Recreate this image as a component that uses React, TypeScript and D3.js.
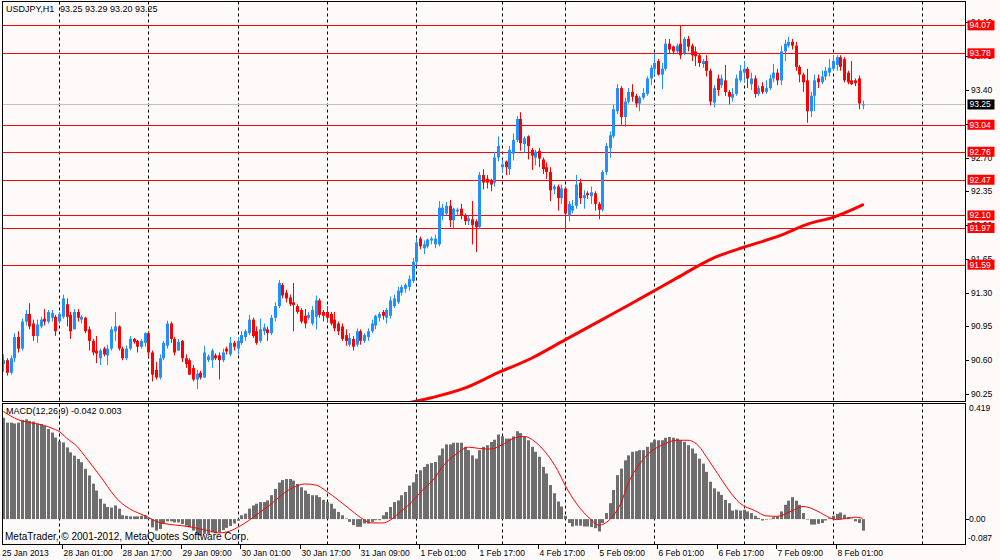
import React from 'react';
import * as d3 from 'd3';

const W = 1000;
const H = 560;

const opens = [
  90.56, 90.60, 90.47, 90.62, 90.84, 90.72, 91.00, 91.08, 90.98, 90.85,
  90.95, 91.03, 91.00, 91.04, 91.05, 91.00, 91.05, 91.18, 91.07, 90.92,
  91.10, 91.02, 91.04, 90.92, 90.80, 90.70, 90.62, 90.72, 90.65, 90.72,
  90.90, 90.95, 90.72, 90.62, 90.72, 90.82, 90.80, 90.74, 90.78, 90.88,
  90.68, 90.50, 90.42, 90.62, 90.75, 90.98, 90.82, 90.70, 90.80, 90.62,
  90.60, 90.52, 90.40, 90.47, 90.42, 90.60, 90.60, 90.65, 90.65, 90.60,
  90.72, 90.66, 90.78, 90.72, 90.78, 90.84, 90.88, 91.02, 90.90, 90.80,
  90.90, 90.92, 90.88, 91.04, 91.16, 91.38, 91.30, 91.25, 91.20, 91.16,
  91.12, 91.06, 91.04, 90.98, 91.05, 91.22, 91.10, 91.10, 91.08, 91.02,
  90.98, 90.95, 90.86, 90.76, 90.82, 90.76, 90.90, 90.80, 90.84, 90.90,
  90.96, 91.04, 91.10, 91.04, 91.06, 91.16, 91.20, 91.30, 91.34, 91.36,
  91.42, 91.62, 91.86, 91.76, 91.78, 91.84, 91.80, 91.80, 92.10, 92.12,
  92.20, 92.05, 92.14, 92.17, 92.10, 92.04, 92.06, 92.04, 91.98, 92.52,
  92.48, 92.46, 92.44, 92.70, 92.60, 92.66, 92.58, 92.74, 92.88, 93.10,
  92.84, 92.92, 92.78, 92.70, 92.77, 92.68, 92.60, 92.55, 92.37, 92.40,
  92.28, 92.38, 92.10, 92.15, 92.20, 92.44, 92.28, 92.33, 92.30, 92.33,
  92.22, 92.16, 92.55, 92.80, 92.92, 93.18, 93.42, 93.12, 93.28, 93.38,
  93.34, 93.26, 93.32, 93.36, 93.52, 93.62, 93.70, 93.56, 93.62, 93.88,
  93.85, 93.80, 93.88, 93.78, 93.93, 93.86, 93.80, 93.76, 93.67, 93.70,
  93.60, 93.27, 93.52, 93.45, 93.50, 93.38, 93.32, 93.36, 93.50, 93.58,
  93.62, 93.46, 93.52, 93.36, 93.44, 93.38, 93.42, 93.52, 93.58, 93.50,
  93.80, 93.86, 93.90, 93.86, 93.64, 93.56, 93.50, 93.18, 93.34, 93.52,
  93.48, 93.54, 93.58, 93.62, 93.66, 93.74, 93.72, 93.58, 93.50, 93.50,
  93.52, 93.25,
];

const highs = [
  90.66, 90.62, 90.65, 90.88, 90.90, 91.03, 91.12, 91.19, 91.02, 91.02,
  91.05, 91.13, 91.12, 91.12, 91.07, 91.10, 91.28, 91.24, 91.10, 91.13,
  91.13, 91.07, 91.05, 90.95, 90.82, 90.85, 90.72, 90.74, 90.76, 90.95,
  91.10, 90.96, 90.74, 90.75, 90.85, 90.83, 90.81, 90.82, 90.89, 90.90,
  90.70, 90.58, 90.66, 90.80, 91.01, 91.00, 90.84, 90.82, 90.81, 90.66,
  90.62, 90.55, 90.50, 90.49, 90.75, 90.66, 90.72, 90.67, 90.68, 90.72,
  90.74, 90.84, 90.80, 90.84, 90.90, 90.92, 91.07, 91.04, 90.95, 91.03,
  90.98, 90.95, 91.07, 91.20, 91.43, 91.40, 91.33, 91.28, 91.40, 91.18,
  91.14, 91.13, 91.10, 91.16, 91.27, 91.24, 91.12, 91.16, 91.10, 91.10,
  91.00, 90.98, 90.92, 90.88, 90.85, 90.93, 90.92, 90.88, 90.93, 91.02,
  91.07, 91.10, 91.12, 91.14, 91.26, 91.28, 91.36, 91.38, 91.40, 91.48,
  91.66, 91.87, 91.88, 91.84, 91.86, 91.88, 91.90, 92.25, 92.22, 92.24,
  92.26, 92.18, 92.18, 92.22, 92.12, 92.10, 92.25, 92.06, 92.55, 92.58,
  92.52, 92.48, 92.76, 92.92, 92.68, 92.67, 92.82, 92.95, 93.13, 93.17,
  92.92, 92.93, 92.80, 92.78, 92.80, 92.70, 92.65, 92.60, 92.42, 92.42,
  92.42, 92.40, 92.25, 92.26, 92.52, 92.48, 92.36, 92.35, 92.40, 92.35,
  92.24, 92.57, 92.85, 92.97, 93.25, 93.46, 93.44, 93.32, 93.42, 93.46,
  93.36, 93.34, 93.42, 93.54, 93.66, 93.78, 93.72, 93.68, 93.93, 93.93,
  93.86, 93.88, 94.07, 93.95, 93.96, 93.88, 93.85, 93.78, 93.72, 93.76,
  93.62, 93.45, 93.56, 93.56, 93.66, 93.40, 93.42, 93.56, 93.66, 93.70,
  93.64, 93.58, 93.55, 93.45, 93.48, 93.50, 93.56, 93.67, 93.62, 93.86,
  93.92, 93.95, 93.93, 93.90, 93.66, 93.58, 93.62, 93.38, 93.56, 93.56,
  93.60, 93.64, 93.72, 93.76, 93.76, 93.76, 93.74, 93.60, 93.70, 93.52,
  93.55, 93.29,
];

const lows = [
  90.48, 90.44, 90.45, 90.58, 90.68, 90.70, 90.96, 90.92, 90.80, 90.78,
  90.93, 90.96, 90.98, 91.00, 90.85, 90.98, 91.03, 90.95, 90.82, 90.92,
  91.00, 90.98, 90.88, 90.70, 90.65, 90.57, 90.55, 90.64, 90.55, 90.70,
  90.80, 90.70, 90.60, 90.60, 90.70, 90.77, 90.68, 90.72, 90.74, 90.63,
  90.38, 90.40, 90.40, 90.60, 90.72, 90.78, 90.65, 90.70, 90.58, 90.52,
  90.45, 90.38, 90.30, 90.40, 90.42, 90.58, 90.52, 90.60, 90.40, 90.58,
  90.66, 90.64, 90.70, 90.66, 90.76, 90.80, 90.86, 90.83, 90.76, 90.78,
  90.86, 90.80, 90.86, 91.00, 91.14, 91.24, 91.20, 91.16, 90.90, 91.08,
  90.98, 90.93, 91.02, 90.96, 90.92, 91.04, 91.00, 91.00, 90.96, 90.90,
  90.86, 90.80, 90.75, 90.74, 90.70, 90.74, 90.76, 90.78, 90.80, 90.88,
  90.92, 91.00, 91.02, 90.98, 91.03, 91.14, 91.18, 91.27, 91.30, 91.32,
  91.40, 91.58, 91.75, 91.70, 91.76, 91.80, 91.76, 91.78, 92.05, 92.10,
  91.98, 91.97, 92.10, 92.06, 92.00, 92.00, 91.80, 91.72, 91.96, 92.37,
  92.38, 92.35, 92.40, 92.66, 92.55, 92.52, 92.52, 92.67, 92.86, 92.77,
  92.75, 92.68, 92.57, 92.62, 92.60, 92.53, 92.48, 92.25, 92.32, 92.15,
  92.22, 91.97, 92.04, 92.12, 92.17, 92.22, 92.17, 92.27, 92.22, 92.15,
  92.06, 92.14, 92.52, 92.70, 92.90, 93.15, 93.04, 93.02, 93.26, 93.28,
  93.22, 93.18, 93.30, 93.34, 93.45, 93.55, 93.55, 93.41, 93.60, 93.78,
  93.77, 93.77, 93.72, 93.76, 93.80, 93.70, 93.65, 93.64, 93.63, 93.54,
  93.24, 93.22, 93.34, 93.42, 93.34, 93.25, 93.28, 93.34, 93.48, 93.48,
  93.42, 93.40, 93.32, 93.34, 93.36, 93.36, 93.40, 93.48, 93.45, 93.45,
  93.70, 93.84, 93.82, 93.60, 93.48, 93.38, 93.06, 93.12, 93.18, 93.42,
  93.46, 93.50, 93.54, 93.60, 93.60, 93.60, 93.48, 93.46, 93.45, 93.44,
  93.20, 93.20,
];

const closes = [
  90.60, 90.47, 90.62, 90.84, 90.72, 91.00, 91.08, 90.95, 90.85, 90.97,
  91.02, 91.00, 91.10, 91.09, 90.90, 91.08, 91.24, 91.05, 90.90, 91.10,
  91.04, 91.05, 90.90, 90.80, 90.68, 90.67, 90.70, 90.66, 90.72, 90.92,
  90.95, 90.72, 90.62, 90.72, 90.82, 90.79, 90.74, 90.80, 90.88, 90.68,
  90.45, 90.42, 90.62, 90.78, 90.98, 90.82, 90.68, 90.79, 90.62, 90.56,
  90.45, 90.40, 90.46, 90.42, 90.68, 90.64, 90.70, 90.62, 90.60, 90.68,
  90.69, 90.78, 90.74, 90.80, 90.86, 90.90, 91.02, 90.85, 90.78, 90.92,
  90.94, 90.88, 91.04, 91.16, 91.40, 91.27, 91.24, 91.18, 91.17, 91.10,
  91.00, 90.98, 91.07, 91.12, 91.22, 91.07, 91.06, 91.04, 90.98, 90.93,
  90.90, 90.82, 90.80, 90.83, 90.74, 90.90, 90.80, 90.86, 90.90, 90.98,
  91.06, 91.08, 91.06, 91.12, 91.22, 91.24, 91.32, 91.36, 91.38, 91.44,
  91.62, 91.82, 91.78, 91.80, 91.85, 91.86, 91.86, 92.18, 92.18, 92.20,
  92.05, 92.17, 92.16, 92.10, 92.04, 92.07, 92.00, 91.98, 92.52, 92.44,
  92.44, 92.42, 92.70, 92.82, 92.63, 92.60, 92.78, 92.88, 93.10, 92.85,
  92.90, 92.82, 92.72, 92.76, 92.69, 92.58, 92.55, 92.36, 92.40, 92.28,
  92.38, 92.12, 92.22, 92.20, 92.42, 92.28, 92.31, 92.31, 92.34, 92.22,
  92.16, 92.55, 92.82, 92.93, 93.20, 93.42, 93.12, 93.28, 93.38, 93.33,
  93.26, 93.32, 93.37, 93.52, 93.63, 93.68, 93.56, 93.62, 93.88, 93.82,
  93.80, 93.86, 93.76, 93.93, 93.85, 93.76, 93.75, 93.68, 93.70, 93.60,
  93.28, 93.42, 93.40, 93.52, 93.38, 93.33, 93.36, 93.52, 93.60, 93.62,
  93.52, 93.52, 93.36, 93.42, 93.38, 93.42, 93.52, 93.58, 93.50, 93.80,
  93.88, 93.90, 93.86, 93.64, 93.56, 93.48, 93.18, 93.34, 93.50, 93.48,
  93.54, 93.60, 93.63, 93.70, 93.74, 93.64, 93.50, 93.48, 93.46, 93.47,
  93.26, 93.25,
];

const macdHist = [
  0.369, 0.351, 0.351, 0.348, 0.351, 0.361, 0.363, 0.357, 0.355, 0.348,
  0.346, 0.339, 0.328, 0.315, 0.297, 0.283, 0.279, 0.261, 0.243, 0.231,
  0.219, 0.207, 0.183, 0.159, 0.129, 0.104, 0.074, 0.056, 0.044, 0.042,
  0.050, 0.038, 0.014, 0.012, 0.010, 0.010, 0.010, 0.012, 0.014, 0.004,
  -0.030, -0.042, -0.036, -0.018, -0.008, -0.008, -0.012, -0.012, -0.018, -0.024,
  -0.030, -0.042, -0.054, -0.060, -0.054, -0.054, -0.048, -0.052, -0.048, -0.040,
  -0.032, -0.025, -0.016, -0.006, 0.014, 0.020, 0.038, 0.050, 0.056, 0.062,
  0.062, 0.068, 0.087, 0.110, 0.133, 0.142, 0.146, 0.146, 0.140, 0.128,
  0.116, 0.104, 0.092, 0.087, 0.087, 0.080, 0.070, 0.062, 0.056, 0.038,
  0.026, 0.014, 0.002, -0.010, -0.022, -0.028, -0.028, -0.016, -0.016, -0.010,
  -0.004, -0.004, 0.014, 0.026, 0.044, 0.062, 0.068, 0.087, 0.099, 0.122,
  0.134, 0.164, 0.178, 0.190, 0.200, 0.204, 0.208, 0.232, 0.257, 0.272,
  0.272, 0.278, 0.278, 0.278, 0.263, 0.251, 0.232, 0.220, 0.251, 0.263,
  0.269, 0.281, 0.289, 0.308, 0.302, 0.293, 0.293, 0.301, 0.320, 0.313,
  0.299, 0.287, 0.263, 0.245, 0.227, 0.190, 0.166, 0.124, 0.094, 0.064,
  0.046, 0.012, -0.014, -0.027, -0.024, -0.024, -0.027, -0.027, -0.029, -0.033,
  -0.045, -0.014, 0.022, 0.058, 0.106, 0.160, 0.184, 0.214, 0.232, 0.245,
  0.247, 0.251, 0.251, 0.263, 0.279, 0.289, 0.287, 0.287, 0.296, 0.299,
  0.296, 0.293, 0.287, 0.281, 0.269, 0.257, 0.239, 0.220, 0.202, 0.172,
  0.136, 0.112, 0.100, 0.088, 0.070, 0.058, 0.031, 0.034, 0.031, 0.034,
  0.028, 0.022, 0.012, 0.004, -0.005, -0.002, 0.001, 0.007, 0.010, 0.028,
  0.052, 0.067, 0.080, 0.067, 0.052, 0.022, -0.002, -0.020, -0.020, -0.017,
  -0.014, -0.005, 0.003, 0.012, 0.019, 0.024, 0.016, 0.007, 0.002, -0.008,
  -0.014, -0.042,
];

const signalIdx = [
  0, 4, 8, 11, 13, 15, 17, 20, 22, 25, 27, 29, 31, 33, 35, 37, 39, 41, 44, 48,
  51, 55, 58, 60, 63, 66, 69, 72, 75, 78, 81, 84, 87, 90, 93, 96, 99, 102, 104, 106,
  110, 113, 116, 118, 122, 125, 128, 131, 134, 137, 140, 143, 146, 149, 151, 154, 158, 160, 163, 166,
  168, 171, 174, 177, 181, 184, 187, 189, 192, 195, 198, 202, 205, 208, 212, 215, 219, 222, 224, 227,
  229, 231,
];
const signalVal = [
  0.392, 0.362, 0.349, 0.341, 0.331, 0.319, 0.295, 0.262, 0.228, 0.175, 0.139, 0.100, 0.068, 0.046, 0.030, 0.018, 0.006, -0.008, -0.018, -0.024,
  -0.030, -0.042, -0.050, -0.047, -0.030, -0.005, 0.025, 0.055, 0.090, 0.115, 0.128, 0.124, 0.100, 0.070, 0.038, 0.006, -0.014, -0.014, -0.004, 0.018,
  0.065, 0.110, 0.150, 0.190, 0.239, 0.262, 0.257, 0.255, 0.270, 0.293, 0.301, 0.281, 0.239, 0.178, 0.124, 0.058, -0.002, -0.022, -0.002, 0.058,
  0.130, 0.200, 0.245, 0.269, 0.287, 0.287, 0.265, 0.227, 0.166, 0.106, 0.058, 0.031, 0.012, 0.010, 0.030, 0.046, 0.028, 0.006, -0.002, 0.004,
  0.007, 0.003,
];

const maIdx = [108, 115, 124, 133, 142, 151, 160, 169, 175, 181, 191, 199, 208, 217, 223, 231];
const maVal = [90.15, 90.21, 90.31, 90.47, 90.62, 90.81, 91.00, 91.19, 91.32, 91.45, 91.66, 91.77, 91.88, 92.02, 92.08, 92.21];

const levels = [94.07, 93.78, 93.04, 92.76, 92.47, 92.10, 91.97, 91.59];
const priceTicks = [94.10, 93.75, 93.40, 93.05, 92.70, 92.35, 92.00, 91.65, 91.30, 90.95, 90.60, 90.25];
const macdTicks = [0.419, 0.0, -0.087];
const macdTickText = ['0.419', '0.00', '-0.087'];

const separators = [15, 39, 63, 87, 111, 134, 151, 175, 199, 223, 247];
const timeLabelIdx = [0, 16, 32, 48, 64, 80, 96, 112, 128, 144, 160, 176, 192, 208, 224];
const timeLabelText = [
  '25 Jan 2013', '28 Jan 01:00', '28 Jan 17:00', '29 Jan 09:00', '30 Jan 01:00',
  '30 Jan 17:00', '31 Jan 09:00', '1 Feb 01:00', '1 Feb 17:00', '4 Feb 17:00',
  '5 Feb 09:00', '6 Feb 01:00', '6 Feb 17:00', '7 Feb 09:00', '8 Feb 01:00',
];

const FONT = "'Liberation Sans', Arial, sans-serif";
const BG = '#FFFAFA';
const BULL = '#1E90FF';
const BEAR = '#FF0000';

export default function App() {
  const n = closes.length;
  const left = 2.5;
  const right = 965.5;
  const mainTop = 1.5;
  const mainBottom = 401.5;
  const macdTop = 403.5;
  const macdBottom = 544.5;

  const x = d3.scaleLinear().domain([0, 247]).range([3.3, 3.3 + 247 * 3.72]);
  const y = d3.scaleLinear().domain([90.177, 94.312]).range([401, 2]);
  const ym = d3.scaleLinear().domain([-0.087, 0.419]).range([543, 404]);

  const px = (i: number) => Math.round(x(i)) + 0.5;

  const signalPts: [number, number][] = signalIdx.map((d, k) => [x(d), ym(signalVal[k])]);
  const signalPath = d3.line().curve(d3.curveMonotoneX)(signalPts) || '';
  const maPts: [number, number][] = maIdx.map((d, k) => [x(d), y(maVal[k])]);
  const maPath = d3.line().curve(d3.curveMonotoneX)(maPts) || '';

  const last = n - 1;
  const titleNums = `${opens[last].toFixed(2)} ${highs[last].toFixed(2)} ${lows[last].toFixed(2)} ${closes[last].toFixed(2)}`;
  const macdTitle = `MACD(12,26,9) ${macdHist[last].toFixed(3)} ${signalVal[signalVal.length - 1].toFixed(3)}`;
  const zeroY = ym(0);

  return (
    <svg
      width={W}
      height={H}
      viewBox={`0 0 ${W} ${H}`}
      style={{ position: 'absolute', left: 0, top: 0, display: 'block' }}
      fontFamily={FONT}
    >
      <defs>
        <clipPath id="mainClip">
          <rect x={left} y={mainTop} width={right - left} height={mainBottom - mainTop} />
        </clipPath>
        <clipPath id="macdClip">
          <rect x={left} y={macdTop} width={right - left} height={macdBottom - macdTop} />
        </clipPath>
      </defs>
      <rect x={0} y={0} width={W} height={H} fill={BG} />

      {/* day separators */}
      <g stroke="#000" strokeWidth={1} strokeDasharray="3,3">
        {separators.map((s) => (
          <g key={'sep' + s}>
            <line x1={px(s)} x2={px(s)} y1={mainTop} y2={mainBottom} />
            <line x1={px(s)} x2={px(s)} y1={macdTop} y2={macdBottom} />
          </g>
        ))}
      </g>

      {/* main panel */}
      <g clipPath="url(#mainClip)">
        {levels.map((lv) => (
          <line key={'lv' + lv} x1={left} x2={right} y1={Math.round(y(lv)) + 0.5} y2={Math.round(y(lv)) + 0.5} stroke="#FF0000" strokeWidth={1} />
        ))}
        <line x1={left} x2={right} y1={Math.round(y(closes[last])) + 0.5} y2={Math.round(y(closes[last])) + 0.5} stroke="#C0C0C0" strokeWidth={1} />
        <path d={maPath} fill="none" stroke="#FF0000" strokeWidth={3} strokeLinecap="round" />
        {closes.map((c, i) => {
          const o = opens[i];
          const bull = c >= o;
          const col = bull ? BULL : BEAR;
          const yTop = y(Math.max(o, c));
          const yBot = y(Math.min(o, c));
          const cx = px(i);
          return (
            <g key={'c' + i}>
              <line x1={cx} x2={cx} y1={y(highs[i])} y2={y(lows[i])} stroke={col} strokeWidth={1} />
              <rect x={cx - 1.5} y={yTop} width={3} height={Math.max(1, yBot - yTop)} fill={col} />
            </g>
          );
        })}
      </g>

      {/* MACD panel */}
      <g clipPath="url(#macdClip)">
        {macdHist.map((v, i) => {
          const y0 = zeroY;
          const y1 = ym(v);
          return (
            <rect key={'h' + i} x={px(i) - 1.5} y={Math.min(y0, y1)} width={3} height={Math.max(0.5, Math.abs(y1 - y0))} fill="#6E6E6E" />
          );
        })}
        <path d={signalPath} fill="none" stroke="#FF0000" strokeWidth={1} />
      </g>

      {/* frames */}
      <rect x={left} y={mainTop} width={right - left} height={mainBottom - mainTop} fill="none" stroke="#000" strokeWidth={1} />
      <rect x={left} y={macdTop} width={right - left} height={macdBottom - macdTop} fill="none" stroke="#000" strokeWidth={1} />

      {/* texts in panels */}
      <text x={6} y={12} fontSize={9} fill="#000">USDJPY,H1</text>
      <text x={60} y={12} fontSize={9} fill="#000">{titleNums}</text>
      <text x={6} y={414} fontSize={9} fill="#000">{macdTitle}</text>
      <text x={5} y={540} fontSize={10} fill="#000">MetaTrader, © 2001-2012, MetaQuotes Software Corp.</text>

      {/* right price axis */}
      {priceTicks.map((t) => (
        <g key={'pt' + t}>
          <line x1={966} x2={969} y1={Math.round(y(t)) + 0.5} y2={Math.round(y(t)) + 0.5} stroke="#000" strokeWidth={1} />
          <text x={971} y={y(t)} dy="0.35em" fontSize={8.5} fill="#000">{t.toFixed(2)}</text>
        </g>
      ))}
      {levels.map((lv) => (
        <g key={'lb' + lv}>
          <rect x={967.5} y={y(lv) - 5} width={27} height={10} fill="#FF0000" />
          <text x={969.5} y={y(lv)} dy="0.35em" fontSize={8.5} fill="#FFFFFF">{lv.toFixed(2)}</text>
        </g>
      ))}
      <rect x={967.5} y={y(closes[last]) - 5} width={27} height={10} fill="#000" />
      <text x={969.5} y={y(closes[last])} dy="0.35em" fontSize={8.5} fill="#FFFFFF">{closes[last].toFixed(2)}</text>

      {/* MACD axis */}
      {macdTicks.map((t, k) => {
        const ty = k === 0 ? 408 : k === 2 ? 538 : ym(t);
        return (
          <g key={'mt' + k}>
            {k === 1 && <line x1={966} x2={969} y1={Math.round(ym(t)) + 0.5} y2={Math.round(ym(t)) + 0.5} stroke="#000" strokeWidth={1} />}
            <text x={k === 2 ? 968 : 969} y={ty} dy="0.35em" fontSize={8.5} fill="#000">{macdTickText[k]}</text>
          </g>
        );
      })}

      {/* time axis */}
      {timeLabelIdx.map((ti, k) => (
        <g key={'tl' + k}>
          {k > 0 && <line x1={px(ti) - 1} x2={px(ti) - 1} y1={545} y2={549} stroke="#000" strokeWidth={1} />}
          <text x={k === 0 ? 2 : px(ti)} y={556} fontSize={8.5} fill="#000">{timeLabelText[k]}</text>
        </g>
      ))}
    </svg>
  );
}
